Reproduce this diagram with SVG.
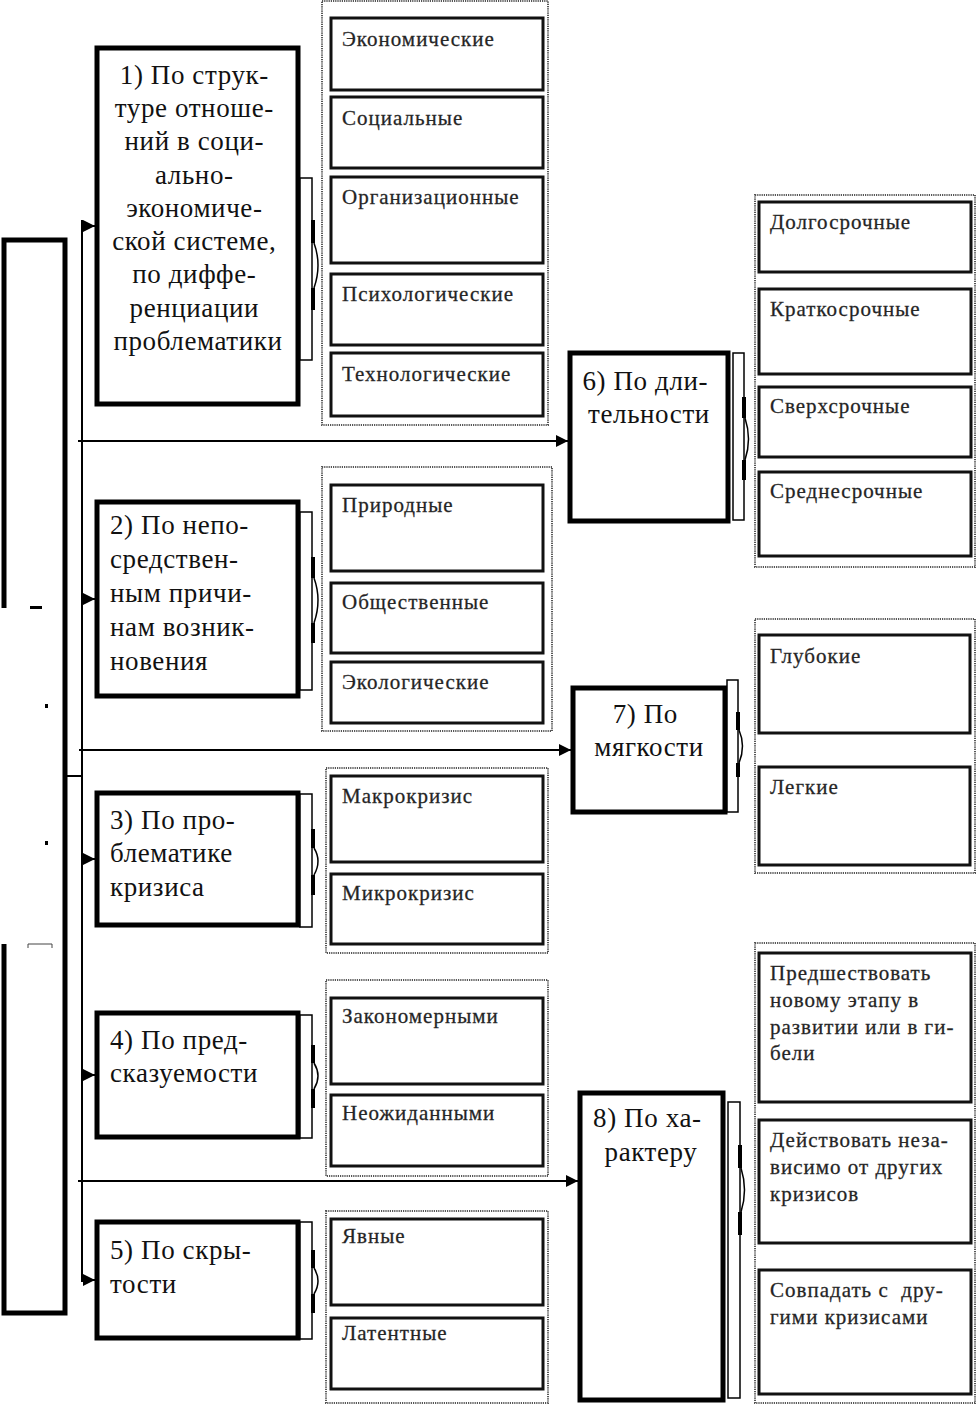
<svg xmlns="http://www.w3.org/2000/svg" width="977" height="1406" viewBox="0 0 977 1406">
<defs>
<style>
.main{fill:#fff;stroke:#000;stroke-width:5}
.item{fill:#fff;stroke:#111;stroke-width:3}
.grp{fill:none;stroke:#555;stroke-width:2;stroke-dasharray:1.2 1}
.brk{fill:#fff;stroke:#000;stroke-width:1.5}
.thk{fill:#000}
.arc{fill:none;stroke:#000;stroke-width:1.5}
.ln{fill:none;stroke:#000;stroke-width:2}
.lbl{font-family:'Liberation Serif','DejaVu Serif',serif;font-size:27px;letter-spacing:0.6px;fill:#111}
.itx{font-family:'Liberation Serif','DejaVu Serif',serif;font-size:21px;fill:#222;letter-spacing:1px;stroke:#333;stroke-width:0.3px}
</style>
<marker id="ah" viewBox="0 0 10 10" refX="10" refY="5" markerWidth="7.5" markerHeight="6" markerUnits="strokeWidth" orient="auto">
<path d="M0,0 L10,5 L0,10 Z" fill="#000"/>
</marker>
</defs>
<rect width="977" height="1406" fill="#fff"/>

<g id="root">
<path d="M4,608 V240 H65 V1313 H4 V944" fill="none" stroke="#000" stroke-width="5"/>
<rect x="30" y="606" width="12" height="3" fill="#000"/>
<rect x="45" y="704" width="3" height="4" fill="#000"/>
<rect x="45" y="841" width="3" height="4" fill="#000"/>
<path d="M28,948 V944 H52 V948" fill="none" stroke="#444" stroke-width="1"/>
</g>

<g id="connectors">
<line class="ln" x1="82" y1="220" x2="82" y2="1282"/>
<line class="ln" x1="65" y1="776" x2="82" y2="776"/>
<line class="ln" x1="81" y1="226" x2="95" y2="226" marker-end="url(#ah)"/>
<line class="ln" x1="81" y1="599" x2="95" y2="599" marker-end="url(#ah)"/>
<line class="ln" x1="81" y1="859" x2="95" y2="859" marker-end="url(#ah)"/>
<line class="ln" x1="81" y1="1075" x2="95" y2="1075" marker-end="url(#ah)"/>
<line class="ln" x1="81" y1="1280" x2="95" y2="1280" marker-end="url(#ah)"/>
<line class="ln" x1="78" y1="441" x2="568" y2="441" marker-end="url(#ah)"/>
<line class="ln" x1="79" y1="750" x2="571" y2="750" marker-end="url(#ah)"/>
<line class="ln" x1="78" y1="1181" x2="578" y2="1181" marker-end="url(#ah)"/>
</g>

<g id="node1">
<rect class="main" x="97" y="48" width="201" height="356"/>
<text class="lbl" text-anchor="middle">
<tspan x="198" y="84">1) По струк-</tspan>
<tspan x="198" y="117">туре отноше-</tspan>
<tspan x="198" y="150">ний в соци-</tspan>
<tspan x="198" y="184">ально-</tspan>
<tspan x="198" y="217">экономиче-</tspan>
<tspan x="198" y="250">ской системе,</tspan>
<tspan x="198" y="283">по диффе-</tspan>
<tspan x="198" y="317">ренциации</tspan>
<tspan x="198" y="350">проблематики</tspan>
</text>
<rect class="brk" x="300" y="178" width="12" height="182"/>
<rect class="thk" x="311" y="220" width="4" height="23"/>
<rect class="thk" x="311" y="288" width="4" height="22"/>
<path class="arc" d="M314,243 Q322,265 314,288"/>
</g>

<g id="group1">
<rect class="grp" x="322" y="1" width="226" height="424"/>
<rect class="item" x="331" y="18" width="212" height="72"/>
<text class="itx" x="342" y="46">Экономические</text>
<rect class="item" x="331" y="97" width="212" height="71"/>
<text class="itx" x="342" y="125">Социальные</text>
<rect class="item" x="331" y="177" width="212" height="86"/>
<text class="itx" x="342" y="204">Организационные</text>
<rect class="item" x="331" y="274" width="212" height="71"/>
<text class="itx" x="342" y="301">Психологические</text>
<rect class="item" x="331" y="353" width="212" height="63"/>
<text class="itx" x="342" y="381">Технологические</text>
</g>

<g id="node2">
<rect class="main" x="97" y="502" width="201" height="194"/>
<text class="lbl">
<tspan x="110" y="534">2) По непо-</tspan>
<tspan x="110" y="568">средствен-</tspan>
<tspan x="110" y="602">ным причи-</tspan>
<tspan x="110" y="636">нам возник-</tspan>
<tspan x="110" y="670">новения</tspan>
</text>
<rect class="brk" x="300" y="512" width="12" height="178"/>
<rect class="thk" x="311" y="557" width="4" height="21"/>
<rect class="thk" x="311" y="623" width="4" height="20"/>
<path class="arc" d="M314,578 Q322,600 314,623"/>
</g>

<g id="group2">
<rect class="grp" x="322" y="467" width="230" height="264"/>
<rect class="item" x="331" y="485" width="212" height="86"/>
<text class="itx" x="342" y="512">Природные</text>
<rect class="item" x="331" y="583" width="212" height="70"/>
<text class="itx" x="342" y="609">Общественные</text>
<rect class="item" x="331" y="662" width="212" height="61"/>
<text class="itx" x="342" y="689">Экологические</text>
</g>

<g id="node3">
<rect class="main" x="97" y="793" width="201" height="132"/>
<text class="lbl">
<tspan x="110" y="829">3) По про-</tspan>
<tspan x="110" y="862">блематике</tspan>
<tspan x="110" y="896">кризиса</tspan>
</text>
<rect class="brk" x="300" y="794" width="12" height="133"/>
<rect class="thk" x="311" y="829" width="4" height="19"/>
<rect class="thk" x="311" y="875" width="4" height="20"/>
<path class="arc" d="M314,848 Q322,861 314,875"/>
</g>

<g id="group3">
<rect class="grp" x="326" y="768" width="222" height="185"/>
<rect class="item" x="331" y="776" width="212" height="86"/>
<text class="itx" x="342" y="803">Макрокризис</text>
<rect class="item" x="331" y="874" width="212" height="70"/>
<text class="itx" x="342" y="900">Микрокризис</text>
</g>

<g id="node4">
<rect class="main" x="97" y="1013" width="201" height="124"/>
<text class="lbl">
<tspan x="110" y="1049">4) По пред-</tspan>
<tspan x="110" y="1082">сказуемости</tspan>
</text>
<rect class="brk" x="300" y="1015" width="12" height="123"/>
<rect class="thk" x="311" y="1045" width="4" height="18"/>
<rect class="thk" x="311" y="1089" width="4" height="19"/>
<path class="arc" d="M314,1063 Q322,1076 314,1089"/>
</g>

<g id="group4">
<rect class="grp" x="326" y="980" width="222" height="196"/>
<rect class="item" x="331" y="998" width="212" height="86"/>
<text class="itx" x="342" y="1023">Закономерными</text>
<rect class="item" x="331" y="1095" width="212" height="71"/>
<text class="itx" x="342" y="1120">Неожиданными</text>
</g>

<g id="node5">
<rect class="main" x="97" y="1222" width="201" height="116"/>
<text class="lbl">
<tspan x="110" y="1259">5) По скры-</tspan>
<tspan x="110" y="1293">тости</tspan>
</text>
<rect class="brk" x="300" y="1222" width="12" height="117"/>
<rect class="thk" x="311" y="1250" width="4" height="18"/>
<rect class="thk" x="311" y="1294" width="4" height="19"/>
<path class="arc" d="M314,1268 Q322,1281 314,1294"/>
</g>

<g id="group5">
<rect class="grp" x="326" y="1211" width="222" height="192"/>
<rect class="item" x="331" y="1219" width="212" height="86"/>
<text class="itx" x="342" y="1243">Явные</text>
<rect class="item" x="331" y="1318" width="212" height="71"/>
<text class="itx" x="342" y="1340">Латентные</text>
</g>

<g id="node6">
<rect class="main" x="570" y="353" width="158" height="168"/>
<text class="lbl" text-anchor="middle">
<tspan x="649" y="390">6) По дли-</tspan>
<tspan x="649" y="423">тельности</tspan>
</text>
<rect class="brk" x="733" y="353" width="11" height="167"/>
<rect class="thk" x="742" y="397" width="4" height="21"/>
<rect class="thk" x="742" y="460" width="4" height="20"/>
<path class="arc" d="M745,418 Q752,439 745,460"/>
</g>

<g id="group6">
<rect class="grp" x="755" y="195" width="220" height="372"/>
<rect class="item" x="759" y="202" width="212" height="70"/>
<text class="itx" x="770" y="229">Долгосрочные</text>
<rect class="item" x="759" y="289" width="212" height="85"/>
<text class="itx" x="770" y="316">Краткосрочные</text>
<rect class="item" x="759" y="387" width="212" height="70"/>
<text class="itx" x="770" y="413">Сверхсрочные</text>
<rect class="item" x="759" y="472" width="212" height="84"/>
<text class="itx" x="770" y="498">Среднесрочные</text>
</g>

<g id="node7">
<rect class="main" x="573" y="688" width="152" height="124"/>
<text class="lbl" text-anchor="middle">
<tspan x="649" y="723">7) По</tspan>
<tspan x="649" y="756">мягкости</tspan>
</text>
<rect class="brk" x="727" y="680" width="11" height="132"/>
<rect class="thk" x="736" y="712" width="4" height="18"/>
<rect class="thk" x="736" y="763" width="4" height="14"/>
<path class="arc" d="M739,730 Q746,746 739,763"/>
</g>

<g id="group7">
<rect class="grp" x="755" y="619" width="220" height="254"/>
<rect class="item" x="759" y="635" width="211" height="98"/>
<text class="itx" x="770" y="663">Глубокие</text>
<rect class="item" x="759" y="767" width="211" height="98"/>
<text class="itx" x="770" y="794">Легкие</text>
</g>

<g id="node8">
<rect class="main" x="580" y="1093" width="143" height="307"/>
<text class="lbl" text-anchor="middle">
<tspan x="651" y="1127">8) По ха-</tspan>
<tspan x="651" y="1161">рактеру</tspan>
</text>
<rect class="brk" x="728" y="1102" width="12" height="296"/>
<rect class="thk" x="738" y="1145" width="4" height="23"/>
<rect class="thk" x="738" y="1212" width="4" height="23"/>
<path class="arc" d="M741,1168 Q748,1190 741,1212"/>
</g>

<g id="group8">
<rect class="grp" x="755" y="943" width="220" height="460"/>
<rect class="item" x="759" y="953" width="212" height="149"/>
<text class="itx">
<tspan x="770" y="980">Предшествовать</tspan>
<tspan x="770" y="1007">новому этапу в</tspan>
<tspan x="770" y="1034">развитии или в ги-</tspan>
<tspan x="770" y="1060">бели</tspan>
</text>
<rect class="item" x="759" y="1120" width="212" height="123"/>
<text class="itx">
<tspan x="770" y="1147">Действовать неза-</tspan>
<tspan x="770" y="1174">висимо от других</tspan>
<tspan x="770" y="1201">кризисов</tspan>
</text>
<rect class="item" x="759" y="1270" width="212" height="124"/>
<text class="itx">
<tspan x="770" y="1297">Совпадать с&#160; дру-</tspan>
<tspan x="770" y="1324">гими кризисами</tspan>
</text>
</g>
</svg>
